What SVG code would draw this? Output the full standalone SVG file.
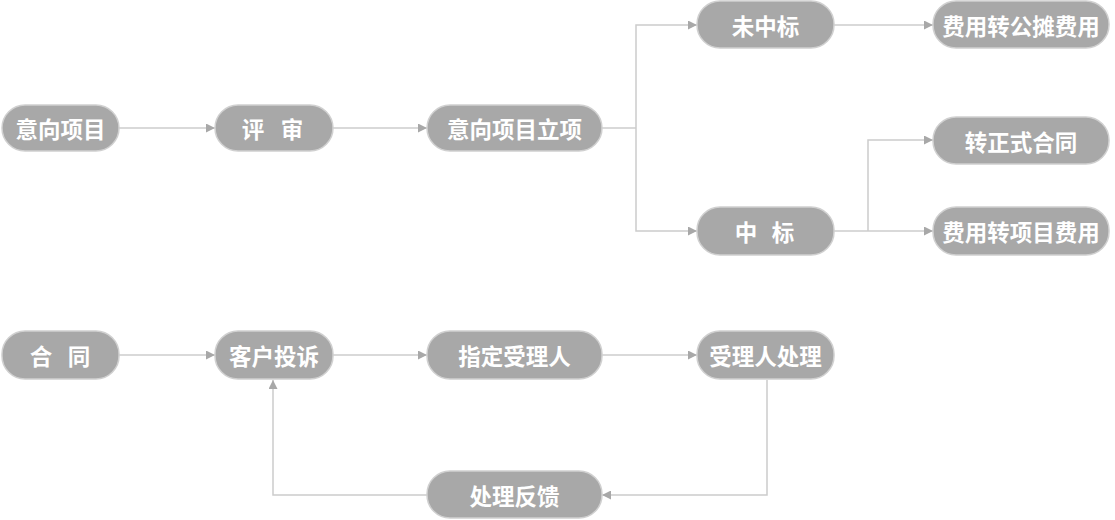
<svg xmlns="http://www.w3.org/2000/svg" width="1115" height="520" viewBox="0 0 1115 520">
<defs>
<marker id="arr" viewBox="0 0 10 10" refX="10" refY="5" markerWidth="9" markerHeight="9" markerUnits="userSpaceOnUse" orient="auto">
<path d="M0,0 L10,5 L0,10 z" fill="#a8a8a8"/>
</marker>
<style>
.n rect{fill:#a8a8a8;stroke:#d0d0d0;stroke-width:1.5}
.n text{fill:#fff;font-family:"Noto Sans CJK SC",sans-serif;font-weight:bold;font-size:22.5px;text-anchor:middle;dominant-baseline:central}
.c path{fill:none;stroke:#cccccc;stroke-width:1.5}
.c path.a{marker-end:url(#arr)}
</style>
</defs>
<rect width="1115" height="520" fill="#fff"/>
<g class="c">
<path class="a" d="M119,128 H215"/>
<path class="a" d="M333,128 H427"/>
<path d="M602,128 H636"/>
<path class="a" d="M636,128 V25 H697"/>
<path class="a" d="M636,128 V231 H697"/>
<path class="a" d="M834,25 H933"/>
<path class="a" d="M834,231 H933"/>
<path class="a" d="M868,231 V140 H933"/>
<path class="a" d="M119,355 H215"/>
<path class="a" d="M333,355 H427"/>
<path class="a" d="M602,355 H697"/>
<path class="a" d="M767,380 V495 H602"/>
<path class="a" d="M427,495 H273 V380"/>
</g>
<g class="n" id="n1"><rect x="2" y="105" width="117" height="46" rx="23"/><text x="60.5" y="128">意向项目</text></g>
<g class="n" id="n2"><rect x="215" y="105" width="118" height="46" rx="23"/><text x="253" y="128">评</text><text x="292" y="128">审</text></g>
<g class="n" id="n3"><rect x="427" y="105" width="175" height="46" rx="23"/><text x="514.5" y="128">意向项目立项</text></g>
<g class="n" id="n4"><rect x="697" y="1" width="137" height="47" rx="23"/><text x="765.5" y="24.5">未中标</text></g>
<g class="n" id="n5"><rect x="933" y="1" width="176" height="47" rx="23"/><text x="1021" y="24.5">费用转公摊费用</text></g>
<g class="n" id="n6"><rect x="933" y="117" width="176" height="47" rx="23"/><text x="1021" y="140.5">转正式合同</text></g>
<g class="n" id="n7"><rect x="697" y="207" width="137" height="48" rx="23"/><text x="746" y="231">中</text><text x="783" y="231">标</text></g>
<g class="n" id="n8"><rect x="933" y="207" width="176" height="48" rx="23"/><text x="1021" y="231">费用转项目费用</text></g>
<g class="n" id="n9"><rect x="2" y="331" width="117" height="48" rx="23"/><text x="41" y="355">合</text><text x="79" y="355">同</text></g>
<g class="n" id="n10"><rect x="215" y="331" width="118" height="48" rx="23"/><text x="274" y="355">客户投诉</text></g>
<g class="n" id="n11"><rect x="427" y="331" width="175" height="48" rx="23"/><text x="514.5" y="355">指定受理人</text></g>
<g class="n" id="n12"><rect x="697" y="331" width="137" height="48" rx="23"/><text x="765.5" y="355">受理人处理</text></g>
<g class="n" id="n13"><rect x="427" y="471" width="175" height="47" rx="23"/><text x="514.5" y="494.5">处理反馈</text></g>
</svg>
